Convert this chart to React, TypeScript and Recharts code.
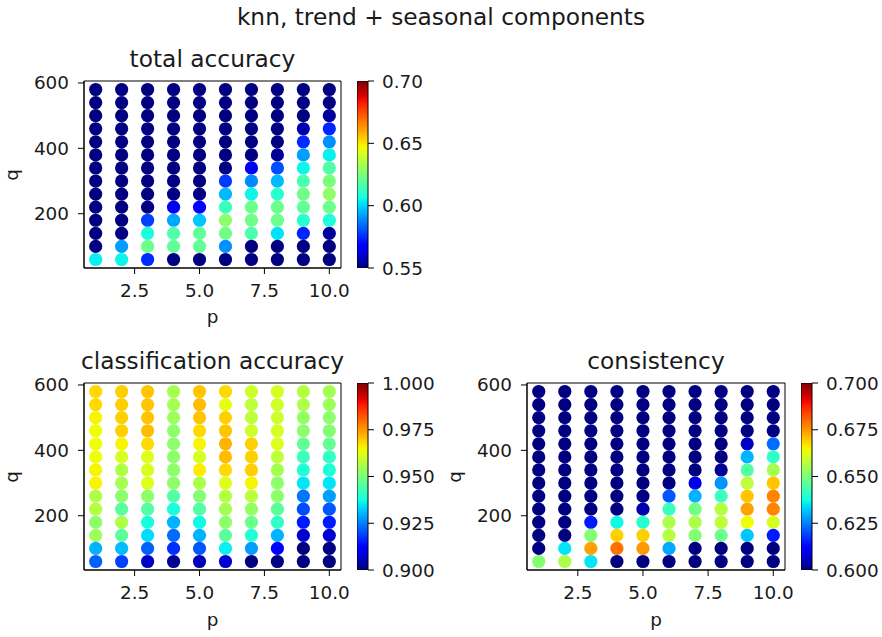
import { ScatterChart, Scatter, XAxis, YAxis, Cell, ReferenceArea, BarChart, Bar } from "recharts";

const pValues = [1, 2, 3, 4, 5, 6, 7, 8, 9, 10];
// rows from top of the plot (q = 580) down to q = 60
const qRows = [580, 540, 500, 460, 420, 380, 340, 300, 260, 220, 180, 140, 100, 60];

const totalAccuracy = [
  [0.53, 0.53, 0.53, 0.53, 0.53, 0.53, 0.53, 0.54, 0.54, 0.545],
  [0.53, 0.53, 0.53, 0.53, 0.53, 0.53, 0.54, 0.54, 0.545, 0.548],
  [0.53, 0.53, 0.53, 0.53, 0.54, 0.54, 0.54, 0.545, 0.548, 0.554],
  [0.53, 0.53, 0.53, 0.54, 0.54, 0.54, 0.545, 0.548, 0.556, 0.574],
  [0.53, 0.53, 0.54, 0.54, 0.54, 0.545, 0.548, 0.549, 0.575, 0.59],
  [0.53, 0.54, 0.54, 0.54, 0.545, 0.548, 0.549, 0.553, 0.592, 0.604],
  [0.54, 0.54, 0.54, 0.545, 0.548, 0.549, 0.565, 0.58, 0.605, 0.617],
  [0.54, 0.54, 0.545, 0.548, 0.549, 0.577, 0.589, 0.596, 0.616, 0.625],
  [0.54, 0.545, 0.548, 0.549, 0.549, 0.596, 0.605, 0.61, 0.623, 0.629],
  [0.545, 0.548, 0.549, 0.565, 0.569, 0.613, 0.622, 0.622, 0.62, 0.622],
  [0.548, 0.549, 0.578, 0.593, 0.598, 0.628, 0.623, 0.622, 0.61, 0.608],
  [0.549, 0.549, 0.607, 0.617, 0.62, 0.623, 0.616, 0.602, 0.574, 0.554],
  [0.549, 0.592, 0.622, 0.62, 0.62, 0.59, 0.545, 0.54, 0.54, 0.54],
  [0.604, 0.605, 0.575, 0.54, 0.54, 0.54, 0.54, 0.54, 0.54, 0.54],
];

const classificationAccuracy = [
  [0.968, 0.969, 0.97, 0.955, 0.97, 0.968, 0.96, 0.961, 0.957, 0.955],
  [0.968, 0.969, 0.97, 0.955, 0.971, 0.963, 0.958, 0.96, 0.956, 0.954],
  [0.965, 0.969, 0.97, 0.954, 0.97, 0.969, 0.958, 0.96, 0.953, 0.952],
  [0.964, 0.969, 0.971, 0.952, 0.968, 0.97, 0.96, 0.961, 0.952, 0.951],
  [0.964, 0.965, 0.968, 0.952, 0.965, 0.972, 0.969, 0.962, 0.947, 0.947],
  [0.964, 0.961, 0.962, 0.952, 0.961, 0.971, 0.969, 0.958, 0.942, 0.941],
  [0.965, 0.956, 0.961, 0.952, 0.966, 0.968, 0.969, 0.955, 0.939, 0.939],
  [0.965, 0.955, 0.962, 0.952, 0.956, 0.962, 0.965, 0.952, 0.935, 0.935],
  [0.956, 0.952, 0.952, 0.945, 0.951, 0.957, 0.958, 0.952, 0.924, 0.928],
  [0.957, 0.946, 0.945, 0.938, 0.945, 0.955, 0.953, 0.946, 0.92, 0.921],
  [0.952, 0.956, 0.938, 0.93, 0.937, 0.952, 0.948, 0.941, 0.915, 0.915],
  [0.954, 0.946, 0.934, 0.923, 0.93, 0.946, 0.939, 0.93, 0.907, 0.907],
  [0.93, 0.931, 0.922, 0.917, 0.921, 0.936, 0.928, 0.912, 0.898, 0.897],
  [0.922, 0.919, 0.906, 0.902, 0.905, 0.907, 0.898, 0.897, 0.896, 0.895],
];

const consistency = [
  [0.57, 0.572, 0.575, 0.574, 0.576, 0.578, 0.58, 0.582, 0.585, 0.588],
  [0.571, 0.573, 0.576, 0.577, 0.579, 0.58, 0.582, 0.585, 0.588, 0.59],
  [0.572, 0.575, 0.578, 0.579, 0.581, 0.583, 0.585, 0.588, 0.591, 0.594],
  [0.573, 0.576, 0.579, 0.581, 0.583, 0.585, 0.588, 0.591, 0.595, 0.598],
  [0.574, 0.577, 0.58, 0.582, 0.585, 0.588, 0.591, 0.595, 0.606, 0.623],
  [0.575, 0.578, 0.581, 0.584, 0.587, 0.591, 0.595, 0.598, 0.63, 0.641],
  [0.576, 0.579, 0.582, 0.586, 0.59, 0.594, 0.598, 0.602, 0.645, 0.655],
  [0.577, 0.58, 0.584, 0.588, 0.592, 0.597, 0.609, 0.627, 0.658, 0.67],
  [0.578, 0.582, 0.586, 0.59, 0.595, 0.621, 0.63, 0.642, 0.67, 0.677],
  [0.58, 0.584, 0.588, 0.593, 0.604, 0.642, 0.649, 0.657, 0.674, 0.677],
  [0.582, 0.586, 0.615, 0.637, 0.64, 0.656, 0.656, 0.658, 0.664, 0.661],
  [0.584, 0.59, 0.651, 0.669, 0.669, 0.657, 0.651, 0.648, 0.632, 0.615],
  [0.586, 0.635, 0.674, 0.679, 0.675, 0.629, 0.595, 0.59, 0.588, 0.585],
  [0.651, 0.656, 0.635, 0.595, 0.59, 0.588, 0.586, 0.585, 0.584, 0.583],
];

const xTicks = [2.5, 5, 7.5, 10];
const yTicks = [200, 400, 600];
const totalTicks = [0.55, 0.6, 0.65, 0.7];
const classTicks = [0.9, 0.925, 0.95, 0.975, 1.0];
const consTicks = [0.6, 0.625, 0.65, 0.675, 0.7];

const FONT = "'DejaVu Sans', sans-serif";
const TICK_FS = 18.4;
const TITLE_FS = 23.3;

// matplotlib "jet" colormap
const interp = (t: number, xs: number[], ys: number[]) => {
  for (let i = 1; i < xs.length; i++) {
    if (t <= xs[i]) {
      const f = (t - xs[i - 1]) / (xs[i] - xs[i - 1]);
      return ys[i - 1] + f * (ys[i] - ys[i - 1]);
    }
  }
  return ys[ys.length - 1];
};
const jet = (t: number) => {
  const c = Math.max(0, Math.min(1, t));
  const r = interp(c, [0, 0.35, 0.66, 0.89, 1], [0, 0, 1, 1, 0.5]);
  const g = interp(c, [0, 0.125, 0.375, 0.64, 0.91, 1], [0, 0, 1, 1, 0, 0]);
  const b = interp(c, [0, 0.11, 0.34, 0.65, 1], [0.5, 1, 1, 0, 0]);
  return `rgb(${Math.round(r * 255)},${Math.round(g * 255)},${Math.round(b * 255)})`;
};

const gradientStops = Array.from({ length: 41 }, (_, i) => i / 40);

type Frame = { left: number; top: number; right: number; bottom: number };

const Dot = (props: any) => <circle cx={props.cx} cy={props.cy} r={6.6} fill={props.fill} />;

function Panel({ values, frame, vmin, vmax }: { values: number[][]; frame: Frame; vmin: number; vmax: number }) {
  const data: { p: number; q: number; v: number }[] = [];
  qRows.forEach((q, i) => pValues.forEach((p, j) => data.push({ p, q, v: values[i][j] })));
  const w = frame.right - frame.left;
  const h = frame.bottom - frame.top;
  const tickStyle = { fill: "#1a1a1a", fontSize: TICK_FS, fontFamily: FONT };
  return (
    <div style={{ position: "absolute", left: frame.left - 80, top: frame.top - 20 }}>
      <ScatterChart width={w + 100} height={h + 70} margin={{ top: 20, right: 20, bottom: 0, left: 0 }}>
        <XAxis
          type="number"
          dataKey="p"
          domain={[0.55, 10.45]}
          ticks={xTicks}
          interval={0}
          tickFormatter={(v: number) => v.toFixed(1)}
          height={50}
          tickSize={6}
          tickMargin={10}
          stroke="#000"
          tick={tickStyle}
          allowDataOverflow
        />
        <YAxis
          type="number"
          dataKey="q"
          domain={[34, 606]}
          ticks={yTicks}
          interval={0}
          width={80}
          tickSize={6}
          tickMargin={9}
          stroke="#000"
          tick={tickStyle}
          allowDataOverflow
        />
        <Scatter data={data} isAnimationActive={false} shape={Dot}>
          {data.map((d, k) => (
            <Cell key={k} fill={jet((d.v - vmin) / (vmax - vmin))} />
          ))}
        </Scatter>
        <ReferenceArea x1={0.55} x2={10.45} y1={34} y2={606} fill="none" stroke="#000" strokeWidth={1} ifOverflow="visible" />
      </ScatterChart>
    </div>
  );
}

function ColorBar({ left, right, frame, vmin, vmax, ticks, digits }: { left: number; right: number; frame: Frame; vmin: number; vmax: number; ticks: number[]; digits: number }) {
  const w = right - left;
  const h = frame.bottom - frame.top;
  return (
    <div style={{ position: "absolute", left, top: frame.top - 20 }}>
      <BarChart width={w + 80} height={h + 40} data={[{ k: "cb", v: vmax }]} margin={{ top: 20, right: 0, bottom: 20, left: 0 }} barCategoryGap={0}>
        <XAxis dataKey="k" hide height={0} />
        <YAxis
          orientation="right"
          type="number"
          domain={[vmin, vmax]}
          ticks={ticks}
          interval={0}
          tickFormatter={(v: number) => v.toFixed(digits)}
          width={80}
          tickSize={6}
          tickMargin={8}
          stroke="#000"
          axisLine={false}
          tick={{ fill: "#1a1a1a", fontSize: TICK_FS, fontFamily: FONT }}
          allowDataOverflow
        />
        <Bar dataKey="v" fill="url(#jetGradient)" stroke="#000" strokeWidth={1} isAnimationActive={false} />
      </BarChart>
    </div>
  );
}

const Text = ({ x, y, children, size, rotate }: { x: number; y: number; children: string; size: number; rotate?: boolean }) => (
  <div
    style={{
      position: "absolute",
      left: x,
      top: y,
      fontSize: size,
      lineHeight: 1,
      fontFamily: FONT,
      color: "#1a1a1a",
      whiteSpace: "nowrap",
      transform: rotate ? "translate(-50%, -50%) rotate(-90deg)" : "translateX(-50%)",
    }}
  >
    {children}
  </div>
);

export default function App() {
  const f1 = { left: 84, top: 81, right: 341, bottom: 268 };
  const f2 = { left: 84, top: 383, right: 341, bottom: 570 };
  const f3 = { left: 527, top: 383, right: 785, bottom: 570 };
  return (
    <div style={{ position: "absolute", left: 0, top: 0, width: 882, height: 637, background: "#fff", overflow: "hidden" }}>
      <svg width={0} height={0} style={{ position: "absolute" }}>
        <defs>
          <linearGradient id="jetGradient" x1="0" y1="1" x2="0" y2="0">
            {gradientStops.map((t) => (
              <stop key={t} offset={t} stopColor={jet(t)} />
            ))}
          </linearGradient>
        </defs>
      </svg>

      <Text x={441} y={25 - 0.846 * TITLE_FS} size={TITLE_FS}>knn, trend + seasonal components</Text>

      <Text x={212.5} y={67 - 0.846 * TITLE_FS} size={TITLE_FS}>total accuracy</Text>
      <Panel values={totalAccuracy} frame={f1} vmin={0.55} vmax={0.7} />
      <ColorBar left={357} right={368} frame={f1} vmin={0.55} vmax={0.7} ticks={totalTicks} digits={2} />
      <Text x={212.5} y={297 + 26.5 - 0.846 * TICK_FS} size={TICK_FS}>p</Text>
      <Text x={12} y={174.5} size={TICK_FS} rotate>q</Text>

      <Text x={212.5} y={369 - 0.846 * TITLE_FS} size={TITLE_FS}>classification accuracy</Text>
      <Panel values={classificationAccuracy} frame={f2} vmin={0.9} vmax={1.0} />
      <ColorBar left={357} right={368} frame={f2} vmin={0.9} vmax={1.0} ticks={classTicks} digits={3} />
      <Text x={212.5} y={627 - 0.846 * TICK_FS} size={TICK_FS}>p</Text>
      <Text x={12} y={476.5} size={TICK_FS} rotate>q</Text>

      <Text x={656} y={369 - 0.846 * TITLE_FS} size={TITLE_FS}>consistency</Text>
      <Panel values={consistency} frame={f3} vmin={0.6} vmax={0.7} />
      <ColorBar left={801} right={812} frame={f3} vmin={0.6} vmax={0.7} ticks={consTicks} digits={3} />
      <Text x={656} y={627 - 0.846 * TICK_FS} size={TICK_FS}>p</Text>
      <Text x={455} y={476.5} size={TICK_FS} rotate>q</Text>
    </div>
  );
}
